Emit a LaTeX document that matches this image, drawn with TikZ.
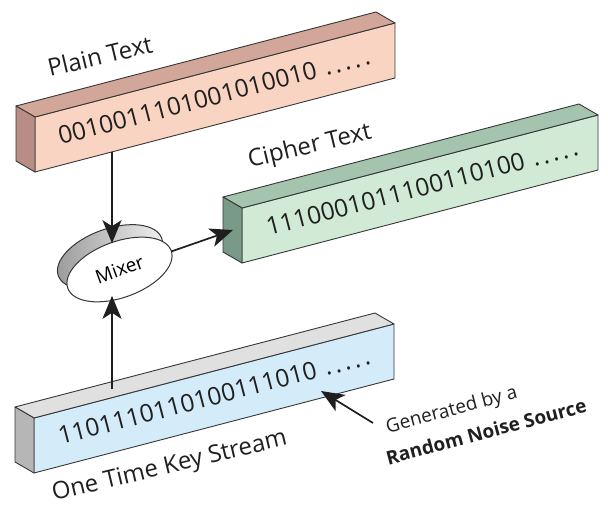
\documentclass[tikz,border=0pt]{standalone}
\usepackage{fontspec}
\setmainfont{Open Sans}
\usetikzlibrary{arrows.meta, calc, shapes.geometric}

\definecolor{plainfront}{RGB}{250,212,194}
\definecolor{plaintop}{RGB}{210,166,152}
\definecolor{plainside}{RGB}{184,142,132}
\definecolor{cipherfront}{RGB}{208,234,214}
\definecolor{ciphertop}{RGB}{164,196,174}
\definecolor{cipherside}{RGB}{120,154,134}
\definecolor{keyfront}{RGB}{212,236,249}
\definecolor{keytop}{RGB}{224,224,224}
\definecolor{keyside}{RGB}{182,182,182}
\definecolor{edgeline}{RGB}{55,55,55}

% a bar: #1 colour prefix, #2 front top left, #3 front top right
\newcommand{\databar}[3]{%
  \draw[barline, fill=#1front] (#2) -- (#3) -- ($(#3)+(0,-55)$) -- ($(#2)+(0,-55)$) -- cycle;
  \draw[barline, fill=#1top] (#2) -- (#3) -- ($(#3)+(-19,11)$) -- ($(#2)+(-19,11)$) -- cycle;
  \draw[barline, fill=#1side] (#2) -- ($(#2)+(-19,11)$) -- ($(#2)+(-19,-44)$) -- ($(#2)+(0,-55)$) -- cycle;
}
\newcommand{\trail}{\ \kern2pt.\kern3.5pt.\kern3.5pt.\kern3.5pt.\kern3.5pt.}

\begin{document}
\begin{tikzpicture}[x=1pt, y=1pt]
    \tikzset{
      barline/.style={draw=edgeline, line width=0.9pt, line join=round}, % outline of the bars
      bits/.style={rotate=14.6, inner sep=0, text=black!88, font=\fontsize{24.5}{30}\selectfont}, % digits on a bar
      barlabel/.style={rotate=13.5, inner sep=0, anchor=base west, text=black!88, font=\fontsize{24}{30}\selectfont},
      flow/.style={-{Stealth[length=23pt, width=19pt, inset=6pt]}, line width=1.7pt, draw=black!88}, % the arrows
      disc/.style={ellipse, draw=edgeline, line width=1pt, minimum width=110pt, minimum height=56pt, inner sep=0, outer sep=0, rotate=20},
    }
    \useasboundingbox (0,0) rectangle (608,509);

    % the three bars
    \databar{plain}{35,392}{395,486}
    \databar{cipher}{242,301}{598,394}
    \databar{key}{34,91}{394,185}

    \node[bits] (plainbits) at (214,413) {0010011101001010010\trail};
    \node[bits] (cipherbits) at (422,322) {1110001011100110100\trail};
    \node[bits] (keybits) at (214,113) {1101110110100111010\trail};

    \node[barlabel] (plainlabel) at (50,432) {Plain Text};
    \node[barlabel] (cipherlabel) at (250,341) {Cipher Text};
    \node[barlabel] (keylabel) at (54,8) {One Time Key Stream};

    % mixer
    \node[disc, left color=gray!80, right color=gray!10] (mixback) at (110,252) {};
    \node[disc, fill=white, font=\fontsize{19}{22}\selectfont] (mixer) at (119.5,239.5) {Mixer};

    \coordinate (plainout) at (112,357);
    \coordinate (keyout) at (112,120);
    \coordinate (cipin) at (233,279);
    \coordinate (keyin) at (321,118);
    \coordinate (gentail) at (373,86);

    \node[rotate=15, anchor=north west, inner sep=0, align=left, text=black!88,
          font=\fontsize{19}{31}\selectfont] (noise) at (384,90)
          {Generated by a\\\hspace*{-8pt}\textbf{Random Noise Source}};

    \draw[flow] (plainout) -- (plainout |- mixer.north);
    \draw[flow] (keyout) -- (keyout |- mixer.south);
    \draw[flow] (mixer) -- (cipin);
    \draw[flow] (gentail) -- (keyin);
\end{tikzpicture}
\end{document}
